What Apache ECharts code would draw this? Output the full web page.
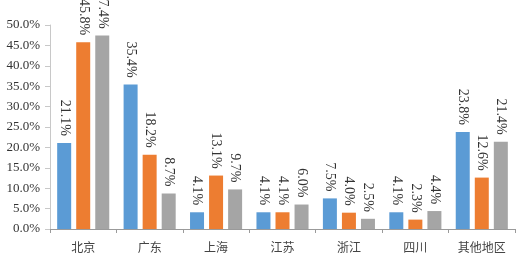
<!DOCTYPE html>
<html><head><meta charset="utf-8">
<script src="https://cdn.jsdelivr.net/npm/echarts@6/dist/echarts.min.js"></script>
<style>html,body{margin:0;padding:0;background:#fff}#c{width:518px;height:253px}</style>
</head><body><div id="c"></div>
<script>
const categories = ['北京','广东','上海','江苏','浙江','四川','其他地区'];
const seriesA = [21.1, 35.4, 4.1, 4.1, 7.5, 4.1, 23.8];
const seriesB = [45.8, 18.2, 13.1, 4.1, 4.0, 2.3, 12.6];
const seriesC = [47.4, 8.7, 9.7, 6.0, 2.5, 4.4, 21.4];
const colors = ['#5B9BD5','#ED7D31','#A5A5A5'];

const chart = echarts.init(document.getElementById('c'), null, {renderer:'canvas'});
const label = {
  show: true, position: 'top', distance: 7, rotate: -90,
  align: 'right', verticalAlign: 'middle',
  fontFamily: 'Liberation Serif', fontSize: 14, color: '#333',
  formatter: p => p.value.toFixed(1) + '%'
};
function mk(data, i){
  return {type:'bar', data, barWidth:14, barGap:'36%', itemStyle:{color:colors[i]}, label};
}
chart.setOption({
  animation:false,
  grid:{left:50, right:3, top:25, bottom:24, containLabel:false},
  xAxis:{type:'category', data:categories,
    axisLine:{lineStyle:{color:'#9a9a9a', width:1}},
    axisTick:{show:true, length:4, lineStyle:{color:'#9a9a9a'}},
    axisLabel:{fontFamily:'Noto Sans CJK SC', fontSize:12, color:'#444', margin:12}},
  yAxis:{type:'value', min:0, max:50, interval:5,
    axisLine:{show:true, lineStyle:{color:'#c8c8c8'}},
    axisTick:{show:true, length:5, lineStyle:{color:'#c8c8c8'}}, splitLine:{show:false},
    axisLabel:{fontFamily:'Liberation Serif', fontSize:13, color:'#333', margin:10,
      formatter: v => v.toFixed(1) + '%'}},
  series:[mk(seriesA,0), mk(seriesB,1), mk(seriesC,2)]
});
</script></body></html>
